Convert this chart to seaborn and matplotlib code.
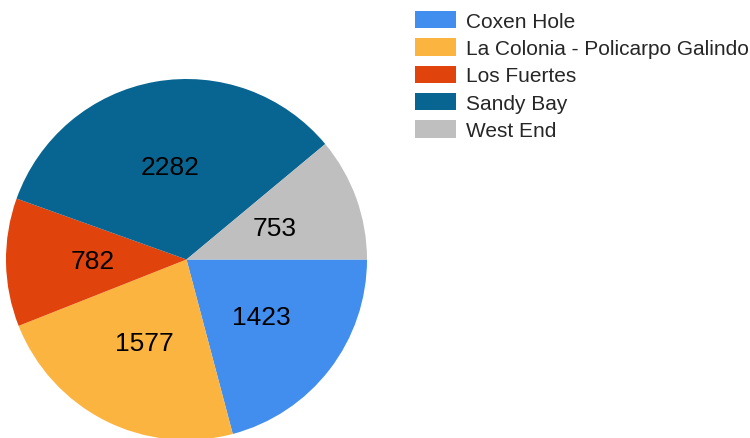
import matplotlib
matplotlib.use("Agg")
import matplotlib.pyplot as plt
from matplotlib.patches import Patch
import seaborn as sns

# data
neighbourhoods = ["Coxen Hole", "La Colonia - Policarpo Galindo", "Los Fuertes", "Sandy Bay", "West End"]
counts = [1423, 1577, 782, 2282, 753]
colors = ["#418eef", "#fbb43f", "#e0430c", "#086591", "#bfbfbf"]

sns.set_theme(style="white")
plt.rcParams["font.family"] = ["Liberation Sans", "DejaVu Sans"]

fig = plt.figure(figsize=(7.5, 4.39), dpi=100)
W, H = 750, 439
# pie circle: x 6..367, y 80..441 (pixels from top)
ax = fig.add_axes([6 / W, (H - 441) / H, 361 / W, 361 / H])

total = sum(counts)
wedges, texts, autotexts = ax.pie(
    counts,
    colors=colors,
    startangle=0,
    counterclock=False,
    autopct=lambda p: f"{round(p * total / 100)}",
    pctdistance=0.52,
    wedgeprops=dict(linewidth=0),
    textprops=dict(fontsize=19, color="black"),
)
ax.set_xlim(-1, 1)
ax.set_ylim(-1, 1)
ax.set_aspect("equal")
ax.axis("off")

handles = [Patch(facecolor=c, edgecolor="none") for c in colors]
fig.legend(
    handles, neighbourhoods,
    loc="upper left",
    bbox_to_anchor=(415 / W, 1 - 12 / H),
    frameon=False,
    fontsize=15,
    borderpad=0,
    borderaxespad=0,
    handlelength=1.97,
    handleheight=0.9,
    handletextpad=0.48,
    labelspacing=0.36,
)

fig.savefig("out.png", dpi=100)
